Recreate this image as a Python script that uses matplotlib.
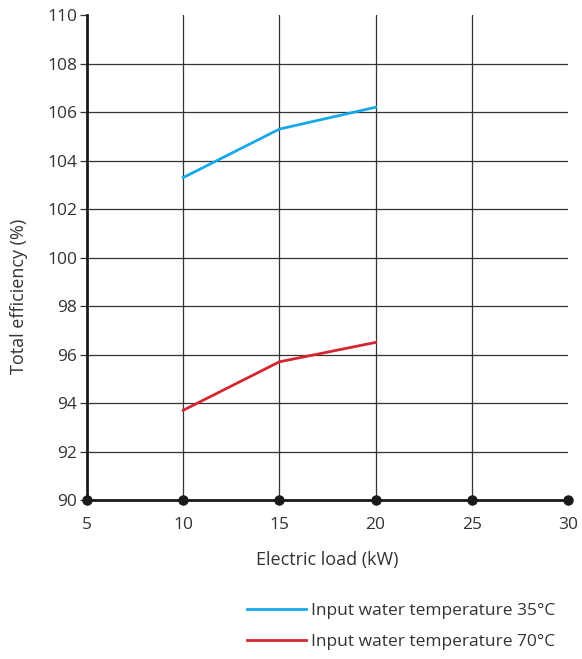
import matplotlib
matplotlib.use("Agg")
import matplotlib.pyplot as plt

# Efficiency vs electric load

load_kw = [10, 15, 20]
eff_35 = [103.3, 105.3, 106.2]
eff_70 = [93.7, 95.7, 96.5]

x_ticks = [5, 10, 15, 20, 25, 30]
y_ticks = [90, 92, 94, 96, 98, 100, 102, 104, 106, 108, 110]

label_35 = "Input water temperature 35°C"
label_70 = "Input water temperature 70°C"

plt.rcParams["font.family"] = ["Open Sans", "DejaVu Sans"]

fig = plt.figure(figsize=(5.82, 6.59), dpi=100)
ax = fig.add_axes([0.1495, 0.2413, 0.8265, 0.7357])

ax.set_xlim(5, 30)
ax.set_ylim(90, 110)
ax.set_xticks(x_ticks)
ax.set_yticks(y_ticks)

# grid
for x in x_ticks[1:-1]:
    ax.axvline(x, color="#333333", lw=0.9, zorder=1)
for y in y_ticks[1:-1]:
    ax.axhline(y, color="#333333", lw=0.9, zorder=1)

ax.plot(load_kw, eff_35, color="#16a9e8", lw=2, label=label_35, zorder=3)
ax.plot(load_kw, eff_70, color="#d52631", lw=2, label=label_70, zorder=3)

# dots along the x axis
ax.plot(x_ticks, [90] * len(x_ticks), "o", color="#1a1a1a", ms=6.5,
        clip_on=False, zorder=5)

for s in ["top", "right"]:
    ax.spines[s].set_visible(False)
ax.spines["left"].set_linewidth(2)
ax.spines["bottom"].set_linewidth(2)
ax.spines["left"].set_color("#1a1a1a")
ax.spines["bottom"].set_color("#1a1a1a")

ax.tick_params(axis="y", length=5, width=0.9, color="#333333",
               labelsize=12.5, labelcolor="#333333", pad=2)
ax.tick_params(axis="x", length=0, labelsize=12.5, labelcolor="#333333", pad=12)

ax.set_xlabel("Electric load (kW)", fontsize=13, color="#333333", labelpad=13)
ax.set_ylabel("Total efficiency (%)", fontsize=13, color="#333333")
ax.yaxis.set_label_coords(-0.123, 0.42)

ax.legend(loc="upper right", bbox_to_anchor=(1.005, -0.18), frameon=False,
          fontsize=12.5, handlelength=3.4, handletextpad=0.25, labelspacing=0.85,
          labelcolor="#333333")

fig.savefig("out.png", dpi=100)
